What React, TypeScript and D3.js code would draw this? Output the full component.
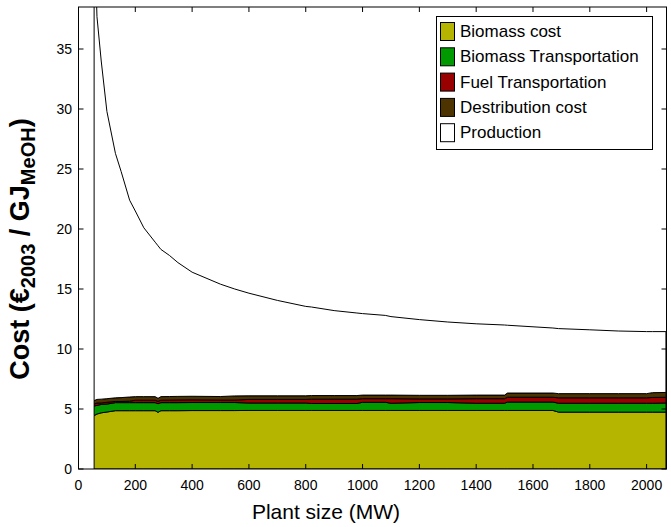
import React from "react";
import * as d3 from "d3";

// plant size (MW) and cost components (€2003 / GJ MeOH)
const plantSize = [55, 65, 80, 100, 130, 150, 180, 200, 230, 270, 280, 290, 320, 350, 400, 500, 550, 600, 700, 800, 820, 900, 980, 1000, 1080, 1100, 1200, 1300, 1400, 1500, 1510, 1600, 1670, 1690, 1800, 1900, 2000, 2020, 2068];
const biomassCost = [4.45, 4.58, 4.68, 4.75, 4.86, 4.86, 4.86, 4.86, 4.86, 4.86, 4.72, 4.86, 4.86, 4.86, 4.87, 4.87, 4.87, 4.88, 4.88, 4.88, 4.88, 4.88, 4.88, 4.88, 4.88, 4.88, 4.88, 4.88, 4.88, 4.88, 4.88, 4.88, 4.88, 4.74, 4.74, 4.74, 4.74, 4.74, 4.74];
const biomassTransport = [0.8, 0.72, 0.7, 0.66, 0.67, 0.67, 0.67, 0.67, 0.67, 0.67, 0.72, 0.67, 0.67, 0.67, 0.67, 0.67, 0.67, 0.62, 0.62, 0.62, 0.58, 0.58, 0.58, 0.68, 0.68, 0.6, 0.66, 0.66, 0.6, 0.6, 0.7, 0.7, 0.7, 0.74, 0.74, 0.74, 0.74, 0.74, 0.76];
const fuelTransport = [0.15, 0.2, 0.12, 0.15, 0.1, 0.1, 0.12, 0.2, 0.2, 0.2, 0.2, 0.2, 0.21, 0.22, 0.22, 0.2, 0.2, 0.3, 0.3, 0.3, 0.36, 0.36, 0.36, 0.3, 0.3, 0.38, 0.3, 0.3, 0.38, 0.38, 0.4, 0.4, 0.4, 0.45, 0.45, 0.45, 0.45, 0.48, 0.48];
const distribution = [0.3, 0.3, 0.32, 0.3, 0.3, 0.32, 0.35, 0.3, 0.3, 0.3, 0.25, 0.3, 0.3, 0.3, 0.3, 0.3, 0.35, 0.3, 0.3, 0.3, 0.3, 0.3, 0.3, 0.3, 0.3, 0.3, 0.3, 0.3, 0.3, 0.3, 0.35, 0.35, 0.35, 0.35, 0.35, 0.35, 0.35, 0.4, 0.4];
const production = [40.3, 31.9, 28.18, 23.94, 20.37, 18.85, 16.4, 15.47, 14.07, 12.87, 12.71, 12.27, 11.76, 11.15, 10.34, 9.36, 8.91, 8.55, 7.95, 7.45, 7.38, 7.08, 6.88, 6.79, 6.64, 6.54, 6.31, 6.11, 5.94, 5.84, 5.65, 5.52, 5.42, 5.42, 5.32, 5.22, 5.17, 5.09, 5.07];

const seriesNames = ["Biomass cost", "Biomass Transportation", "Fuel Transportation", "Destribution cost", "Production"];
const seriesColors = ["#b5b500", "#009900", "#990000", "#4d3300", "#ffffff"];
const xTicks = [0, 200, 400, 600, 800, 1000, 1200, 1400, 1600, 1800, 2000];
const yTicks = [0, 5, 10, 15, 20, 25, 30, 35];

const W = 671;
const H = 527;
const FONT = "'Liberation Sans', Arial, sans-serif";

export default function App() {
  const x = d3.scaleLinear().domain([0, 2070]).range([78.5, 666.5]);
  const y = d3.scaleLinear().domain([0, 38.5]).range([469, 7]);

  const cols = [biomassCost, biomassTransport, fuelTransport, distribution, production];
  const rows = plantSize.map((p, i) => {
    const r: any = { size: p };
    seriesNames.forEach((k, j) => (r[k] = cols[j][i]));
    return r;
  });
  const stacked = d3.stack().keys(seriesNames)(rows);

  const area = d3
    .area<any>()
    .x((d) => x(d.data.size))
    .y0((d) => y(d[0]))
    .y1((d) => y(d[1]));

  const [x0, x1] = x.range();
  const [yb, yt] = y.range();
  const tick = 5;

  return (
    <svg width={W} height={H} style={{ position: "absolute", left: 0, top: 0, background: "#fff" }} fontFamily={FONT}>
      <defs>
        <clipPath id="plot">
          <rect x={x0} y={yt} width={x1 - x0} height={yb - yt} />
        </clipPath>
      </defs>

      <g clipPath="url(#plot)">
        {stacked.map((s, i) => (
          <path key={s.key} d={area(s as any) || ""} fill={seriesColors[i]} stroke="#000" strokeWidth={1} strokeLinejoin="round" />
        ))}
      </g>

      {/* axes box + inward ticks */}
      <rect x={x0} y={yt} width={x1 - x0} height={yb - yt} fill="none" stroke="#000" strokeWidth={1} />
      {xTicks.map((t) => (
        <g key={"x" + t}>
          <line x1={x(t)} x2={x(t)} y1={yb} y2={yb - tick} stroke="#000" />
          <line x1={x(t)} x2={x(t)} y1={yt} y2={yt + tick} stroke="#000" />
          <text x={x(t)} y={490} textAnchor="middle" fontSize={14} fill="#000">
            {t}
          </text>
        </g>
      ))}
      {yTicks.map((t) => (
        <g key={"y" + t}>
          <line x1={x0} x2={x0 + tick} y1={y(t)} y2={y(t)} stroke="#000" />
          <line x1={x1} x2={x1 - tick} y1={y(t)} y2={y(t)} stroke="#000" />
          <text x={72} y={y(t)} textAnchor="end" dominantBaseline="central" fontSize={14} fill="#000">
            {t}
          </text>
        </g>
      ))}

      {/* axis labels */}
      <text x={326} y={519} textAnchor="middle" fontSize={21} fill="#000">
        Plant size (MW)
      </text>
      <text transform="translate(29,249) rotate(-90)" textAnchor="middle" fontSize={27} fontWeight="bold" fill="#000">
        Cost (€
        <tspan fontSize={20} dy={6}>2003</tspan>
        <tspan dy={-6}> / GJ</tspan>
        <tspan fontSize={20} dy={6}>MeOH</tspan>
        <tspan dy={-6}>)</tspan>
      </text>

      {/* legend */}
      <g>
        <rect x={436.5} y={16.5} width={216} height={133} fill="#fff" stroke="#000" />
        {seriesNames.map((n, i) => (
          <g key={n}>
            <rect x={440.5} y={22.5 + i * 25.3} width={14} height={18} fill={seriesColors[i]} stroke="#000" />
            <text x={460} y={31.5 + i * 25.3} dominantBaseline="central" fontSize={17} fill="#000">
              {n}
            </text>
          </g>
        ))}
      </g>
    </svg>
  );
}
